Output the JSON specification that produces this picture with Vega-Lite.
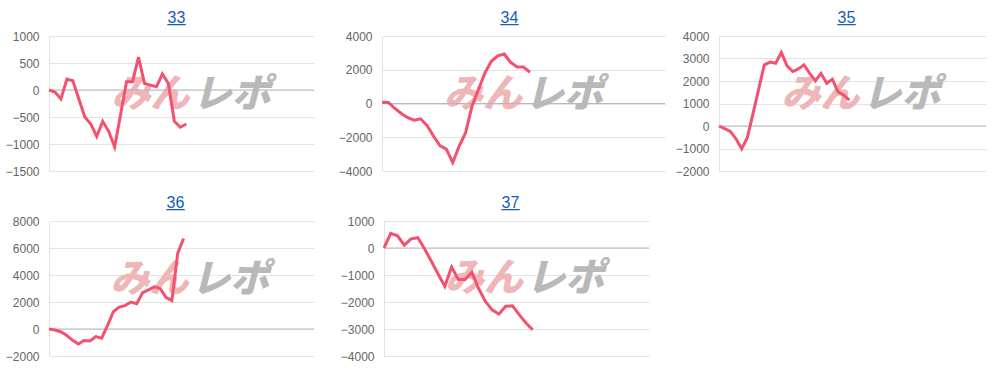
{
  "$schema": "https://vega.github.io/schema/vega-lite/v6.json",
  "padding": {"left": 5, "top": 9, "right": 0, "bottom": 0},
  "background": "white",
  "datasets": {
    "c33": [{"t":0,"v":0},{"t":1,"v":-37},{"t":2,"v":-165},{"t":3,"v":200},{"t":4,"v":170},{"t":5,"v":-165},{"t":6,"v":-500},{"t":7,"v":-630},{"t":8,"v":-860},{"t":9,"v":-580},{"t":10,"v":-765},{"t":11,"v":-1055},{"t":12,"v":-450},{"t":13,"v":155},{"t":14,"v":155},{"t":15,"v":610},{"t":16,"v":120},{"t":17,"v":90},{"t":18,"v":60},{"t":19,"v":300},{"t":20,"v":120},{"t":21,"v":-580},{"t":22,"v":-690},{"t":23,"v":-630}],
    "c34": [{"t":0,"v":80},{"t":1,"v":60},{"t":2,"v":-295},{"t":3,"v":-590},{"t":4,"v":-845},{"t":5,"v":-985},{"t":6,"v":-905},{"t":7,"v":-1300},{"t":8,"v":-1930},{"t":9,"v":-2500},{"t":10,"v":-2700},{"t":11,"v":-3500},{"t":12,"v":-2520},{"t":13,"v":-1730},{"t":14,"v":-150},{"t":15,"v":830},{"t":16,"v":1810},{"t":17,"v":2500},{"t":18,"v":2830},{"t":19,"v":2930},{"t":20,"v":2440},{"t":21,"v":2160},{"t":22,"v":2160},{"t":23,"v":1850}],
    "c35": [{"t":0,"v":0},{"t":1,"v":-120},{"t":2,"v":-240},{"t":3,"v":-570},{"t":4,"v":-1015},{"t":5,"v":-520},{"t":6,"v":550},{"t":7,"v":1640},{"t":8,"v":2720},{"t":9,"v":2840},{"t":10,"v":2790},{"t":11,"v":3270},{"t":12,"v":2670},{"t":13,"v":2420},{"t":14,"v":2540},{"t":15,"v":2720},{"t":16,"v":2340},{"t":17,"v":2010},{"t":18,"v":2340},{"t":19,"v":1900},{"t":20,"v":2080},{"t":21,"v":1520},{"t":22,"v":1370},{"t":23,"v":1150}],
    "c36": [{"t":0,"v":0},{"t":1,"v":-75},{"t":2,"v":-200},{"t":3,"v":-470},{"t":4,"v":-820},{"t":5,"v":-1110},{"t":6,"v":-850},{"t":7,"v":-880},{"t":8,"v":-560},{"t":9,"v":-680},{"t":10,"v":250},{"t":11,"v":1280},{"t":12,"v":1620},{"t":13,"v":1730},{"t":14,"v":2000},{"t":15,"v":1880},{"t":16,"v":2700},{"t":17,"v":2900},{"t":18,"v":3120},{"t":19,"v":3000},{"t":20,"v":2350},{"t":21,"v":2100},{"t":22,"v":5600},{"t":23,"v":6700}],
    "c37": [{"t":0,"v":0},{"t":1,"v":540},{"t":2,"v":450},{"t":3,"v":105},{"t":4,"v":340},{"t":5,"v":380},{"t":6,"v":-30},{"t":7,"v":-490},{"t":8,"v":-960},{"t":9,"v":-1420},{"t":10,"v":-700},{"t":11,"v":-1170},{"t":12,"v":-1170},{"t":13,"v":-900},{"t":14,"v":-1500},{"t":15,"v":-1980},{"t":16,"v":-2290},{"t":17,"v":-2450},{"t":18,"v":-2160},{"t":19,"v":-2140},{"t":20,"v":-2470},{"t":21,"v":-2780},{"t":22,"v":-3030}],
    "one": [{}]
  },
  "config": {
    "view": {"stroke": null},
    "axisY": {"labelFont": "Liberation Sans", "labelFontSize": 12, "labelColor": "#666666", "ticks": false, "labelPadding": 10, "domainColor": "#e2e2e2", "grid": true, "gridColor": "#e4e4e4", "title": null, "format": "d", "labelOverlap": false, "labelBound": false, "labelFlush": false},
    "title": {"font": "Liberation Sans", "fontSize": 16, "fontWeight": "normal", "color": "#1360b5", "baseline": "alphabetic", "offset": 3, "frame": "group", "anchor": "middle", "subtitleFont": "Liberation Sans", "subtitleFontSize": 16, "subtitleColor": "#1360b5", "subtitlePadding": -17},
    "line": {"color": "#f4516f", "strokeWidth": 3},
    "rule": {"color": "#b8b8b8", "strokeWidth": 1}
  },
  "vconcat": [
    {
      "spacing": 9,
      "hconcat": [
        {
          "spacing": 23,
          "hconcat": [
            {
              "title": {"text": "33", "subtitle": "__", "dx": -5},
              "width": 265, "height": 135,
              "layer": [
                {"data": {"name": "one"}, "mark": {"type": "text", "text": "みん", "font": "Noto Sans CJK JP", "fontSize": 39, "fontWeight": 900, "fontStyle": "italic", "color": "#eeb6b8"},
                 "encoding": {"x": {"datum": 17.0, "type": "quantitative", "scale": {"domain": [0, 44.4]}, "axis": null}, "y": {"datum": -85, "type": "quantitative", "scale": {"domain": [-1500, 1000], "nice": false}, "axis": {"values": [-1500, -1000, -500, 0, 500, 1000], "labelOverlap": false}}}},
                {"data": {"name": "one"}, "mark": {"type": "text", "text": "レポ", "font": "Noto Sans CJK JP", "fontSize": 39, "fontWeight": 900, "fontStyle": "italic", "color": "#b9b9b9"},
                 "encoding": {"x": {"datum": 30.6, "type": "quantitative", "scale": {"domain": [0, 44.4]}, "axis": null}, "y": {"datum": -85, "type": "quantitative", "scale": {"domain": [-1500, 1000], "nice": false}, "axis": {"values": [-1500, -1000, -500, 0, 500, 1000], "labelOverlap": false}}}},
                {"data": {"name": "one"}, "mark": "rule",
                 "encoding": {"y": {"datum": 0, "type": "quantitative", "scale": {"domain": [-1500, 1000], "nice": false}, "axis": {"values": [-1500, -1000, -500, 0, 500, 1000], "labelOverlap": false}}}},
                {"data": {"name": "c33"}, "mark": "line",
                 "encoding": {"x": {"field": "t", "type": "quantitative", "scale": {"domain": [0, 44.4]}, "axis": null}, "y": {"field": "v", "type": "quantitative", "scale": {"domain": [-1500, 1000], "nice": false}, "axis": {"values": [-1500, -1000, -500, 0, 500, 1000], "labelOverlap": false}}}}
              ]
            },
            {
              "title": {"text": "34", "subtitle": "__", "dx": -14},
              "width": 283, "height": 135,
              "layer": [
                {"data": {"name": "one"}, "mark": {"type": "text", "text": "みん", "font": "Noto Sans CJK JP", "fontSize": 39, "fontWeight": 900, "fontStyle": "italic", "color": "#eeb6b8"},
                 "encoding": {"x": {"datum": 15.7, "type": "quantitative", "scale": {"domain": [0, 44]}, "axis": null}, "y": {"datum": 500, "type": "quantitative", "scale": {"domain": [-4000, 4000], "nice": false}, "axis": {"values": [-4000, -2000, 0, 2000, 4000], "labelOverlap": false}}}},
                {"data": {"name": "one"}, "mark": {"type": "text", "text": "レポ", "font": "Noto Sans CJK JP", "fontSize": 39, "fontWeight": 900, "fontStyle": "italic", "color": "#b9b9b9"},
                 "encoding": {"x": {"datum": 28.3, "type": "quantitative", "scale": {"domain": [0, 44]}, "axis": null}, "y": {"datum": 500, "type": "quantitative", "scale": {"domain": [-4000, 4000], "nice": false}, "axis": {"values": [-4000, -2000, 0, 2000, 4000], "labelOverlap": false}}}},
                {"data": {"name": "one"}, "mark": "rule",
                 "encoding": {"y": {"datum": 0, "type": "quantitative", "scale": {"domain": [-4000, 4000], "nice": false}, "axis": {"values": [-4000, -2000, 0, 2000, 4000], "labelOverlap": false}}}},
                {"data": {"name": "c34"}, "mark": "line",
                 "encoding": {"x": {"field": "t", "type": "quantitative", "scale": {"domain": [0, 44]}, "axis": null}, "y": {"field": "v", "type": "quantitative", "scale": {"domain": [-4000, 4000], "nice": false}, "axis": {"values": [-4000, -2000, 0, 2000, 4000], "labelOverlap": false}}}}
              ]
            }
          ]
        },
        {
          "title": {"text": "35", "subtitle": "__", "dx": -6},
          "width": 267, "height": 135,
          "layer": [
            {"data": {"name": "one"}, "mark": {"type": "text", "text": "みん", "font": "Noto Sans CJK JP", "fontSize": 39, "fontWeight": 900, "fontStyle": "italic", "color": "#eeb6b8"},
             "encoding": {"x": {"datum": 17.9, "type": "quantitative", "scale": {"domain": [0, 47.1]}, "axis": null}, "y": {"datum": 1390, "type": "quantitative", "scale": {"domain": [-2000, 4000], "nice": false}, "axis": {"values": [-2000, -1000, 0, 1000, 2000, 3000, 4000], "labelOverlap": false}}}},
            {"data": {"name": "one"}, "mark": {"type": "text", "text": "レポ", "font": "Noto Sans CJK JP", "fontSize": 39, "fontWeight": 900, "fontStyle": "italic", "color": "#b9b9b9"},
             "encoding": {"x": {"datum": 32.2, "type": "quantitative", "scale": {"domain": [0, 47.1]}, "axis": null}, "y": {"datum": 1390, "type": "quantitative", "scale": {"domain": [-2000, 4000], "nice": false}, "axis": {"values": [-2000, -1000, 0, 1000, 2000, 3000, 4000], "labelOverlap": false}}}},
            {"data": {"name": "one"}, "mark": "rule",
             "encoding": {"y": {"datum": 0, "type": "quantitative", "scale": {"domain": [-2000, 4000], "nice": false}, "axis": {"values": [-2000, -1000, 0, 1000, 2000, 3000, 4000], "labelOverlap": false}}}},
            {"data": {"name": "c35"}, "mark": "line",
             "encoding": {"x": {"field": "t", "type": "quantitative", "scale": {"domain": [0, 47.1]}, "axis": null}, "y": {"field": "v", "type": "quantitative", "scale": {"domain": [-2000, 4000], "nice": false}, "axis": {"values": [-2000, -1000, 0, 1000, 2000, 3000, 4000], "labelOverlap": false}}}}
          ]
        }
      ]
    },
    {
      "spacing": 25,
      "hconcat": [
        {
          "title": {"text": "36", "subtitle": "__", "dx": -6},
          "width": 265, "height": 135,
          "layer": [
            {"data": {"name": "one"}, "mark": {"type": "text", "text": "みん", "font": "Noto Sans CJK JP", "fontSize": 39, "fontWeight": 900, "fontStyle": "italic", "color": "#eeb6b8"},
             "encoding": {"x": {"datum": 17.2, "type": "quantitative", "scale": {"domain": [0, 45.3]}, "axis": null}, "y": {"datum": 3620, "type": "quantitative", "scale": {"domain": [-2000, 8000], "nice": false}, "axis": {"values": [-2000, 0, 2000, 4000, 6000, 8000], "labelOverlap": false}}}},
            {"data": {"name": "one"}, "mark": {"type": "text", "text": "レポ", "font": "Noto Sans CJK JP", "fontSize": 39, "fontWeight": 900, "fontStyle": "italic", "color": "#b9b9b9"},
             "encoding": {"x": {"datum": 31.0, "type": "quantitative", "scale": {"domain": [0, 45.3]}, "axis": null}, "y": {"datum": 3620, "type": "quantitative", "scale": {"domain": [-2000, 8000], "nice": false}, "axis": {"values": [-2000, 0, 2000, 4000, 6000, 8000], "labelOverlap": false}}}},
            {"data": {"name": "one"}, "mark": "rule",
             "encoding": {"y": {"datum": 0, "type": "quantitative", "scale": {"domain": [-2000, 8000], "nice": false}, "axis": {"values": [-2000, 0, 2000, 4000, 6000, 8000], "labelOverlap": false}}}},
            {"data": {"name": "c36"}, "mark": "line",
             "encoding": {"x": {"field": "t", "type": "quantitative", "scale": {"domain": [0, 45.3]}, "axis": null}, "y": {"field": "v", "type": "quantitative", "scale": {"domain": [-2000, 8000], "nice": false}, "axis": {"values": [-2000, 0, 2000, 4000, 6000, 8000], "labelOverlap": false}}}}
          ]
        },
        {
          "title": {"text": "37", "subtitle": "__", "dx": -6},
          "width": 265, "height": 135,
          "layer": [
            {"data": {"name": "one"}, "mark": {"type": "text", "text": "みん", "font": "Noto Sans CJK JP", "fontSize": 39, "fontWeight": 900, "fontStyle": "italic", "color": "#eeb6b8"},
             "encoding": {"x": {"datum": 14.8, "type": "quantitative", "scale": {"domain": [0, 39.2]}, "axis": null}, "y": {"datum": -1165, "type": "quantitative", "scale": {"domain": [-4000, 1000], "nice": false}, "axis": {"values": [-4000, -3000, -2000, -1000, 0, 1000], "labelOverlap": false}}}},
            {"data": {"name": "one"}, "mark": {"type": "text", "text": "レポ", "font": "Noto Sans CJK JP", "fontSize": 39, "fontWeight": 900, "fontStyle": "italic", "color": "#b9b9b9"},
             "encoding": {"x": {"datum": 26.8, "type": "quantitative", "scale": {"domain": [0, 39.2]}, "axis": null}, "y": {"datum": -1165, "type": "quantitative", "scale": {"domain": [-4000, 1000], "nice": false}, "axis": {"values": [-4000, -3000, -2000, -1000, 0, 1000], "labelOverlap": false}}}},
            {"data": {"name": "one"}, "mark": "rule",
             "encoding": {"y": {"datum": 0, "type": "quantitative", "scale": {"domain": [-4000, 1000], "nice": false}, "axis": {"values": [-4000, -3000, -2000, -1000, 0, 1000], "labelOverlap": false}}}},
            {"data": {"name": "c37"}, "mark": "line",
             "encoding": {"x": {"field": "t", "type": "quantitative", "scale": {"domain": [0, 39.2]}, "axis": null}, "y": {"field": "v", "type": "quantitative", "scale": {"domain": [-4000, 1000], "nice": false}, "axis": {"values": [-4000, -3000, -2000, -1000, 0, 1000], "labelOverlap": false}}}}
          ]
        }
      ]
    }
  ],
  "spacing": 17
}
